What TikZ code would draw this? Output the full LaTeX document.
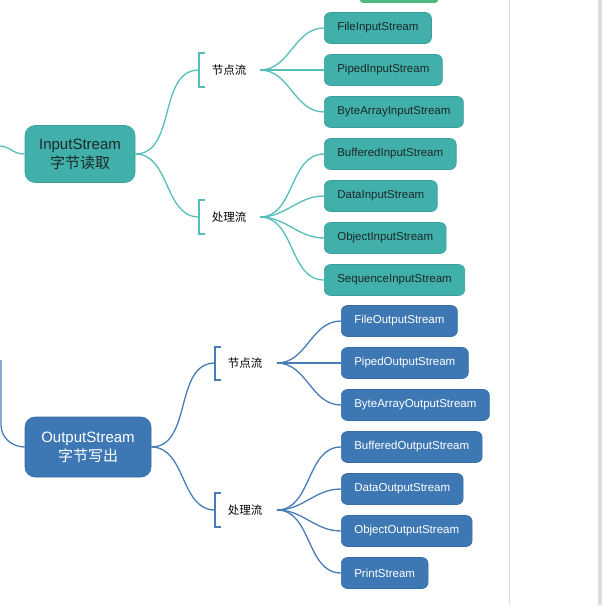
\documentclass[tikz,border=0pt]{standalone}
\usepackage{fontspec}
\setmainfont{Liberation Sans}
\newfontfamily\cjk{Noto Sans CJK SC}
\definecolor{tealfill}{RGB}{66,176,170}
\definecolor{tealedge}{RGB}{58,160,155}
\definecolor{tealline}{RGB}{84,190,184}
\definecolor{bluefill}{RGB}{62,120,180}
\definecolor{blueedge}{RGB}{55,108,165}
\definecolor{blueline}{RGB}{72,124,182}
\definecolor{darktext}{RGB}{28,40,40}
\definecolor{greenbar}{RGB}{78,182,128}
\definecolor{grayline}{RGB}{218,218,218}
\definecolor{graystrip}{RGB}{222,222,224}
\tikzset{
  kid/.style={rounded corners=6pt, minimum height=31pt, inner xsep=13pt, anchor=west,
    font=\fontsize{11.5}{13}\selectfont, line width=0.6pt},
  tkid/.style={kid, fill=tealfill, draw=tealedge, text=darktext},
  bkid/.style={kid, fill=bluefill, draw=blueedge, text=white},
  mroot/.style={rounded corners=10pt, align=center, font=\fontsize{15}{17}\selectfont, line width=0.6pt},
  lab/.style={font=\cjk\fontsize{11.5}{13}\selectfont, text=black, inner sep=1pt},
  tline/.style={draw=tealline, line width=1.3pt},
  bline/.style={draw=blueline, line width=1.3pt},
}
\begin{document}
\begin{tikzpicture}[x=1pt,y=-1pt]
\useasboundingbox (0,0) rectangle (602,610);
% background elements
\fill[grayline] (508.5,0) rectangle (509.5,605);
\fill[graystrip] (598,0) rectangle (602,605);
\fill[greenbar, rounded corners=3pt] (360,-6) rectangle (438,3);

% ---- InputStream ----
\node[mroot, fill=tealfill, draw=tealedge, text=darktext, minimum width=110pt, minimum height=57pt]
  (inroot) at (80,154) {InputStream\\[2pt]{\cjk 字节读取}};
\coordinate (inleft) at (0,146);
\draw[tline] (inleft) .. controls (12,147) and (12,154) .. (inroot.west);

\node[lab] (il1) at (229,70) {节点流};
\node[lab] (il2) at (229,217) {处理流};
\coordinate (ib1) at (199,70);
\coordinate (ib2) at (199,217);
\coordinate (if1) at (260,70);
\coordinate (if2) at (260,217);
\draw[tline] (205,53) -| (199,87) -- (205,87);
\draw[tline] (205,200) -| (199,234) -- (205,234);
\draw[tline] (inroot.east) to[out=0,in=180] (ib1);
\draw[tline] (inroot.east) to[out=0,in=180] (ib2);

\node[tkid] (ic1) at (324,28) {FileInputStream};
\node[tkid] (ic2) at (324,70) {PipedInputStream};
\node[tkid] (ic3) at (324,112) {ByteArrayInputStream};
\node[tkid] (ic4) at (324,154) {BufferedInputStream};
\node[tkid] (ic5) at (324,196) {DataInputStream};
\node[tkid] (ic6) at (324,238) {ObjectInputStream};
\node[tkid] (ic7) at (324,280) {SequenceInputStream};
\foreach \c in {ic1,ic2,ic3} \draw[tline] (if1) to[out=0,in=180] (\c.west);
\foreach \c in {ic4,ic5,ic6,ic7} \draw[tline] (if2) to[out=0,in=180] (\c.west);

% ---- OutputStream ----
\node[mroot, fill=bluefill, draw=blueedge, text=white, minimum width=126pt, minimum height=60pt]
  (outroot) at (88,447) {OutputStream\\[2pt]{\cjk 字节写出}};
\coordinate (outtop) at (1,360);
\draw[bline] (outtop) -- (1,425) to[out=-90,in=180] (outroot.west);

\node[lab] (ol1) at (245,363) {节点流};
\node[lab] (ol2) at (245,510) {处理流};
\coordinate (ob1) at (215,363);
\coordinate (ob2) at (215,510);
\coordinate (of1) at (277,363);
\coordinate (of2) at (277,510);
\draw[bline] (221,347) -| (215,380) -- (221,380);
\draw[bline] (221,493) -| (215,527) -- (221,527);
\draw[bline] (outroot.east) to[out=0,in=180] (ob1);
\draw[bline] (outroot.east) to[out=0,in=180] (ob2);

\node[bkid] (oc1) at (341,321) {FileOutputStream};
\node[bkid] (oc2) at (341,363) {PipedOutputStream};
\node[bkid] (oc3) at (341,405) {ByteArrayOutputStream};
\node[bkid] (oc4) at (341,447) {BufferedOutputStream};
\node[bkid] (oc5) at (341,489) {DataOutputStream};
\node[bkid] (oc6) at (341,531) {ObjectOutputStream};
\node[bkid] (oc7) at (341,573) {PrintStream};
\foreach \c in {oc1,oc2,oc3} \draw[bline] (of1) to[out=0,in=180] (\c.west);
\foreach \c in {oc4,oc5,oc6,oc7} \draw[bline] (of2) to[out=0,in=180] (\c.west);
\end{tikzpicture}
\end{document}
